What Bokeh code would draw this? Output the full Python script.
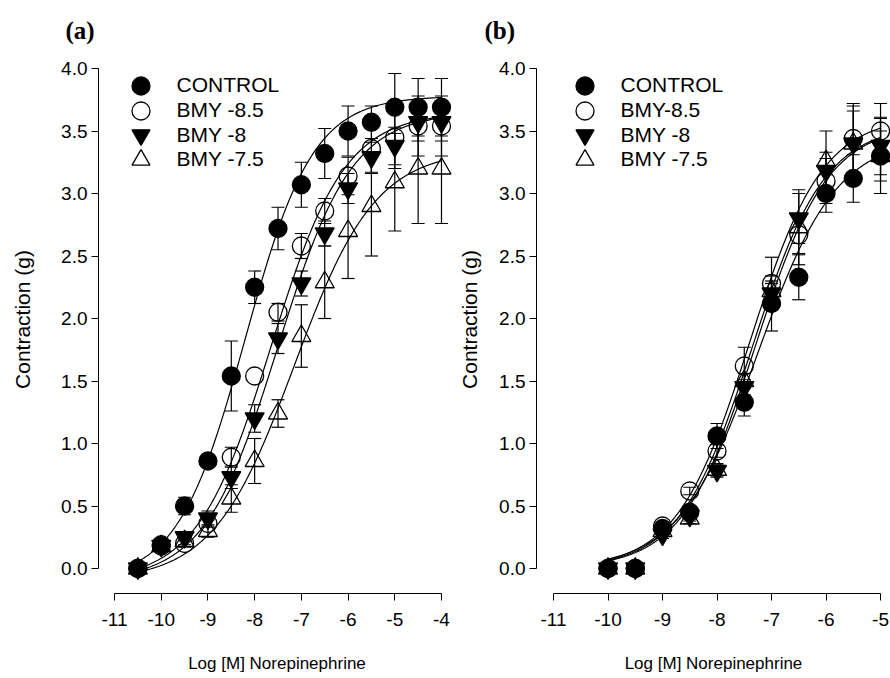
import numpy as np
from bokeh.plotting import figure
from bokeh.layouts import row
from bokeh.models import (Range1d, FixedTicker, PrintfTickFormatter, Legend, LegendItem, Title)
from bokeh.embed import file_html
from bokeh.resources import INLINE

# ---------------- data ----------------
series_names_a = ["CONTROL", "BMY -8.5", "BMY -8", "BMY -7.5"]
series_names_b = ["CONTROL", "BMY-8.5", "BMY -8", "BMY -7.5"]

conc_a = [-10.5, -10, -9.5, -9, -8.5, -8, -7.5, -7, -6.5, -6, -5.5, -5, -4.5, -4]
a_control = [0.0, 0.19, 0.50, 0.86, 1.54, 2.25, 2.72, 3.07, 3.32, 3.50, 3.57, 3.69, 3.69, 3.69]
a_control_err = [0, 0.02, 0.07, 0.03, 0.28, 0.13, 0.17, 0.18, 0.20, 0.20, 0.13, 0.27, 0.23, 0.23]
a_bmy85 = [0.0, 0.18, 0.20, 0.36, 0.89, 1.54, 2.05, 2.58, 2.86, 3.14, 3.36, 3.45, 3.54, 3.54]
a_bmy85_err = [0, 0.02, 0.03, 0.03, 0.08, 0, 0.07, 0.10, 0.10, 0.15, 0.20, 0.25, 0.24, 0.24]
a_bmy8 = [0.0, 0.18, 0.25, 0.40, 0.73, 1.20, 1.84, 2.28, 2.68, 3.04, 3.29, 3.38, 3.57, 3.57]
a_bmy8_err = [0, 0.02, 0.03, 0.06, 0.09, 0.11, 0.12, 0.10, 0.10, 0.12, 0.12, 0.15, 0.15, 0.15]
a_bmy75 = [0.0, 0.18, 0.22, 0.30, 0.56, 0.86, 1.24, 1.86, 2.29, 2.70, 2.90, 3.09, 3.20, 3.20]
a_bmy75_err = [0, 0.02, 0.03, 0.05, 0.11, 0.18, 0.11, 0.25, 0.29, 0.38, 0.40, 0.39, 0.44, 0.44]

conc_b = [-10, -9.5, -9, -8.5, -8, -7.5, -7, -6.5, -6, -5.5, -5]
b_control = [0.0, 0.0, 0.32, 0.45, 1.06, 1.33, 2.12, 2.33, 3.00, 3.12, 3.30]
b_control_err = [0, 0, 0.03, 0.03, 0.10, 0.11, 0.22, 0.18, 0.15, 0.19, 0.20]
b_bmy85 = [0.0, 0.0, 0.34, 0.62, 0.94, 1.62, 2.28, 2.67, 3.10, 3.44, 3.50]
b_bmy85_err = [0, 0, 0.03, 0.03, 0.05, 0.15, 0.21, 0.15, 0.18, 0.28, 0.22]
b_bmy8 = [0.0, 0.0, 0.27, 0.42, 0.78, 1.45, 2.20, 2.80, 3.18, 3.40, 3.38]
b_bmy8_err = [0, 0, 0.03, 0.04, 0.05, 0.06, 0.08, 0.20, 0.15, 0.26, 0.23]
b_bmy75 = [0.0, 0.0, 0.30, 0.40, 0.79, 1.50, 2.22, 2.73, 3.26, 3.40, 3.30]
b_bmy75_err = [0, 0, 0.03, 0.04, 0.05, 0.06, 0.08, 0.30, 0.24, 0.30, 0.30]

# fitted Hill curves: [bottom, top, logEC50, hill slope]
a_fits = [[-0.10, 3.78, -8.20, 0.60],
          [-0.10, 3.65, -7.65, 0.55],
          [-0.10, 3.65, -7.50, 0.55],
          [-0.10, 3.35, -7.15, 0.50]]
a_curve_span = [-10.5, -4.0]
b_fits = [[0.00, 3.45, -7.25, 0.60],
          [0.00, 3.62, -7.40, 0.65],
          [0.00, 3.55, -7.35, 0.65],
          [0.00, 3.55, -7.30, 0.65]]
b_curve_span = [-10.0, -5.0]

x_ticks_a = [-11, -10, -9, -8, -7, -6, -5, -4]
x_ticks_b = [-11, -10, -9, -8, -7, -6, -5]
y_ticks = [0, 0.5, 1.0, 1.5, 2.0, 2.5, 3.0, 3.5, 4.0]

# ---------------- styling ----------------
FONT = "Liberation Sans"
markers = [
    dict(marker="circle", fill_color="black", fill_alpha=1.0, size=18),
    dict(marker="circle", fill_color="white", fill_alpha=0.0, size=18),
    dict(marker="inverted_triangle", fill_color="black", fill_alpha=1.0, size=19),
    dict(marker="triangle", fill_color="white", fill_alpha=0.0, size=19),
]
legend_rows_px = [85, 110, 134.5, 159]   # legend row centres, px from top of figure
FRAME_TOP = 45
FRAME_H = 548


def hill(x, b, t, c, n):
    return b + (t - b) / (1.0 + 10 ** ((c - x) * n))


def make_panel(conc, vals, errs, fits, span, names, xr, yr, xticks, frame_w,
               min_left, ylabel_standoff, tag, tag_offset, legend_x):
    p = figure(output_backend="svg", toolbar_location=None,
               frame_width=frame_w, frame_height=FRAME_H,
               min_border_left=min_left, min_border_right=0,
               min_border_top=FRAME_TOP, min_border_bottom=84,
               x_range=Range1d(*xr), y_range=Range1d(*yr),
               background_fill_color="white", border_fill_color="white")
    p.outline_line_color = None
    p.xgrid.visible = False
    p.ygrid.visible = False

    p.title = Title(text=tag, align="left", offset=tag_offset, standoff=3,
                    text_font="Liberation Serif", text_font_style="bold",
                    text_font_size="25px", text_color="black")

    xa = p.xaxis[0]
    xa.ticker = FixedTicker(ticks=xticks)
    xa.formatter = PrintfTickFormatter(format="%d")
    xa.bounds = (xticks[0], xticks[-1])
    xa.axis_label = "Log [M] Norepinephrine"
    ya = p.yaxis[0]
    ya.ticker = FixedTicker(ticks=y_ticks)
    ya.formatter = PrintfTickFormatter(format="%.1f")
    ya.bounds = (y_ticks[0], y_ticks[-1])
    ya.axis_label = "Contraction (g)"
    for ax in (xa, ya):
        ax.axis_line_color = "black"
        ax.axis_line_width = 1
        ax.major_tick_line_color = "black"
        ax.major_tick_out = 7
        ax.major_tick_in = 0
        ax.minor_tick_line_color = None
        ax.major_label_text_font = FONT
        ax.major_label_text_font_size = "19px"
        ax.major_label_text_color = "black"
        ax.axis_label_text_font = FONT
        ax.axis_label_text_font_style = "normal"
        ax.axis_label_text_color = "black"
    xa.axis_label_text_font_size = "17px"
    ya.axis_label_text_font_size = "21px"
    xa.major_label_standoff = 12
    xa.axis_label_standoff = 25
    ya.major_label_standoff = 4
    ya.axis_label_standoff = ylabel_standoff

    # fitted curves
    xs = np.linspace(span[0], span[1], 300)
    for prm in fits:
        p.line(xs, hill(xs, *prm), line_color="black", line_width=1.2)

    for k in range(4):
        v = np.array(vals[k], dtype=float)
        e = np.array(errs[k], dtype=float)
        x = np.array(conc, dtype=float)
        m = e > 0
        p.segment(x[m], (v - e)[m], x[m], (v + e)[m], line_color="black", line_width=1.2)
        p.scatter(np.concatenate([x[m], x[m]]), np.concatenate([(v - e)[m], (v + e)[m]]),
                  marker="dash", size=13, line_color="black", line_width=1.2)
        st = markers[k]
        r = p.scatter(x, v, marker=st["marker"], size=st["size"],
                      fill_color=st["fill_color"], fill_alpha=st["fill_alpha"],
                      line_color="black", line_width=1.3)
        # one single-item legend per row
        cy = legend_rows_px[k]
        loc_y = (FRAME_TOP + FRAME_H) - (cy + 22.5)
        leg = Legend(items=[LegendItem(label=names[k], renderers=[r])],
                     location=(legend_x, loc_y), glyph_width=45, glyph_height=45,
                     spacing=0, label_standoff=14, padding=0, margin=0,
                     border_line_alpha=0, background_fill_alpha=0,
                     label_text_font=FONT, label_text_font_size="21px",
                     label_text_color="black")
        p.add_layout(leg)
    return p


p1 = make_panel(conc_a, [a_control, a_bmy85, a_bmy8, a_bmy75],
                [a_control_err, a_bmy85_err, a_bmy8_err, a_bmy75_err],
                a_fits, a_curve_span, series_names_a,
                (-11.343, -3.70), (-0.2, 4.184), x_ticks_a, 357, 98, 24,
                "(a)", -33, 19.5)
p2 = make_panel(conc_b, [b_control, b_bmy85, b_bmy8, b_bmy75],
                [b_control_err, b_bmy85_err, b_bmy8_err, b_bmy75_err],
                b_fits, b_curve_span, series_names_b,
                (-11.312, -4.817), (-0.2, 4.184), x_ticks_b, 354, 80, 15,
                "(b)", -52, 25.5)

layout = row(p1, p2, spacing=0)
open("out.html", "w").write(file_html(layout, INLINE))
